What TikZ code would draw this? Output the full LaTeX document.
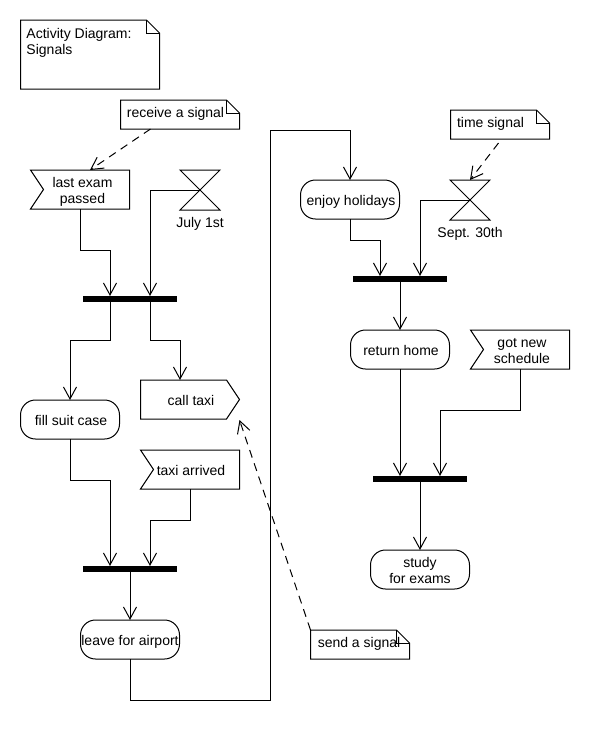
\documentclass[tikz,border=0pt]{standalone}
\usepackage{fontspec}
\setmainfont{Liberation Sans}
\usetikzlibrary{arrows.meta,calc}
\tikzset{
  base/.style={inner sep=0pt,outer sep=0pt,minimum width=99pt,minimum height=39pt,align=center,font=\fontsize{14}{17}\selectfont},
  act/.style={base,draw,rounded corners=15pt},
  sig/.style={base},
  notebox/.style={base,minimum height=29pt},
  joinbar/.style={fill=black,inner sep=0pt,outer sep=0pt,minimum width=94pt,minimum height=6pt},
  hourglass/.style={inner sep=0pt,outer sep=0pt,minimum width=40pt,minimum height=40pt},
  caption/.style={inner sep=0pt,font=\fontsize{14}{17}\selectfont},
  flow/.style={-{Straight Barb[length=12pt,width=13pt]}},
  anchorline/.style={dash pattern=on 8pt off 6pt,-{Straight Barb[length=12pt,width=13pt]}}
}
% label lowered by 3pt, with a kern on its left
\newcommand{\lab}[2]{\raisebox{0pt}[\dimexpr\height+6pt\relax][\depth]{\kern#1pt\begin{tabular}{@{}c@{}}#2\end{tabular}}}
% note label raised by 1pt, with a kern on its right
\newcommand{\nlab}[2]{\raisebox{0pt}[\height][\dimexpr\depth+2pt\relax]{#2\kern#1pt}}
\newcommand{\recvshape}[1]{\draw (#1.north west) -- (#1.north east) -- (#1.south east) -- (#1.south west) -- ([xshift=13pt]#1.west) -- cycle;}
\newcommand{\sendshape}[1]{\draw (#1.north west) -- ([xshift=-13pt]#1.north east) -- (#1.east) -- ([xshift=-13pt]#1.south east) -- (#1.south west) -- cycle;}
\newcommand{\noteshape}[1]{\draw (#1.north west) -- ([xshift=-13pt]#1.north east) -- ([yshift=-13pt]#1.north east) -- (#1.south east) -- (#1.south west) -- cycle;
  \draw ([xshift=-13pt]#1.north east) -- ([xshift=-13pt,yshift=-13pt]#1.north east) -- ([yshift=-13pt]#1.north east);}
\newcommand{\hourshape}[1]{\draw (#1.north west) -- (#1.north east) -- (#1.south west) -- (#1.south east) -- cycle;}
\begin{document}
\begin{tikzpicture}[x=1pt,y=-1pt,line width=1pt]
\useasboundingbox (0,0) rectangle (590,740);
\fill[white] (0,0) rectangle (590,740);

% notes
\node[notebox,minimum width=139pt,minimum height=69pt] (title) at (90,54.5) {\begin{tabular}{@{}l@{}}Activity Diagram:\\[-1pt]Signals\\[22pt]\end{tabular}\kern22pt};
\node[notebox,minimum width=119pt] (rcv) at (180,114.5) {\nlab{9}{receive a signal}};
\node[notebox] (tsig) at (500,124.5) {\nlab{19}{time signal}};
\node[notebox] (snd) at (360,644.5) {\nlab{2}{send a signal}};
\noteshape{title}\noteshape{rcv}\noteshape{tsig}\noteshape{snd}

% signals
\node[sig] (exam) at (80,189.5) {\lab{5}{last exam\\[-1pt]passed}};
\node[sig] (calltaxi) at (190,399.5) {\lab{2}{call taxi}};
\node[sig] (arrived) at (190,469.5) {\lab{2}{taxi arrived}};
\node[sig] (sched) at (520,349.5) {\lab{4}{got new\\[-1pt]schedule}};
\recvshape{exam}\sendshape{calltaxi}\recvshape{arrived}\recvshape{sched}

% time events
\node[hourglass] (july) at (200,190) {};
\node[caption] (julyl) at (200,224) {July 1st};
\node[hourglass] (sept) at (470,200) {};
\node[caption] (septl) at (470,234) {Sept. 30th};
\hourshape{july}\hourshape{sept}

% actions
\node[act] (suit) at (70,419.5) {\lab{2}{fill suit case}};
\node[act] (airport) at (130,639.5) {\lab{0}{leave for airport}};
\node[act] (holidays) at (350,199.5) {\lab{2}{enjoy holidays}};
\node[act] (home) at (400,349.5) {\lab{2}{return home}};
\node[act] (study) at (420,569.5) {\lab{0}{study\\[-1pt]for exams}};

% bars
\node[joinbar] (b1) at (130,299) {};
\node[joinbar] (b2) at (130,569) {};
\node[joinbar] (b3) at (400,279) {};
\node[joinbar] (b4) at (420,479) {};

% flows
\draw[flow] (exam.south) -- ++(0,41) -| ([xshift=-20pt]b1.north);
\draw[flow] (july.center) -| ([xshift=20pt]b1.north);
\draw[flow] ([xshift=-20pt]b1.south) -- ++(0,38) -| (suit.north);
\draw[flow] ([xshift=20pt]b1.south) -- ++(0,38) -| ([xshift=-10pt]calltaxi.north);
\draw[flow] (suit.south) -- ++(0,41) -| ([xshift=-20pt]b2.north);
\draw[flow] (arrived.south) -- ++(0,31) -| ([xshift=20pt]b2.north);
\draw[flow] (b2.south) -- (airport.north);
\draw[flow] (airport.south) -- ++(0,41) -- ++(140,0) -- ++(0,-570) -| (holidays.north);
\draw[flow] (holidays.south) -- ++(0,21) -| ([xshift=-20pt]b3.north);
\draw[flow] (sept.center) -| ([xshift=20pt]b3.north);
\draw[flow] (b3.south) -- (home.north);
\draw[flow] (home.south) -- ([xshift=-20pt]b4.north);
\draw[flow] (sched.south) -- ++(0,41) -| ([xshift=20pt]b4.north);
\draw[flow] (b4.south) -- (study.north);

% note anchors
\draw[anchorline] ([xshift=30pt]rcv.south west) -- ([xshift=10pt]exam.north);
\draw[anchorline] ([xshift=48pt,yshift=-4pt]tsig.south west) -- (sept.north);
\draw[anchorline] (snd.north west) -- ([yshift=-1pt]calltaxi.south east);
\end{tikzpicture}
\end{document}
